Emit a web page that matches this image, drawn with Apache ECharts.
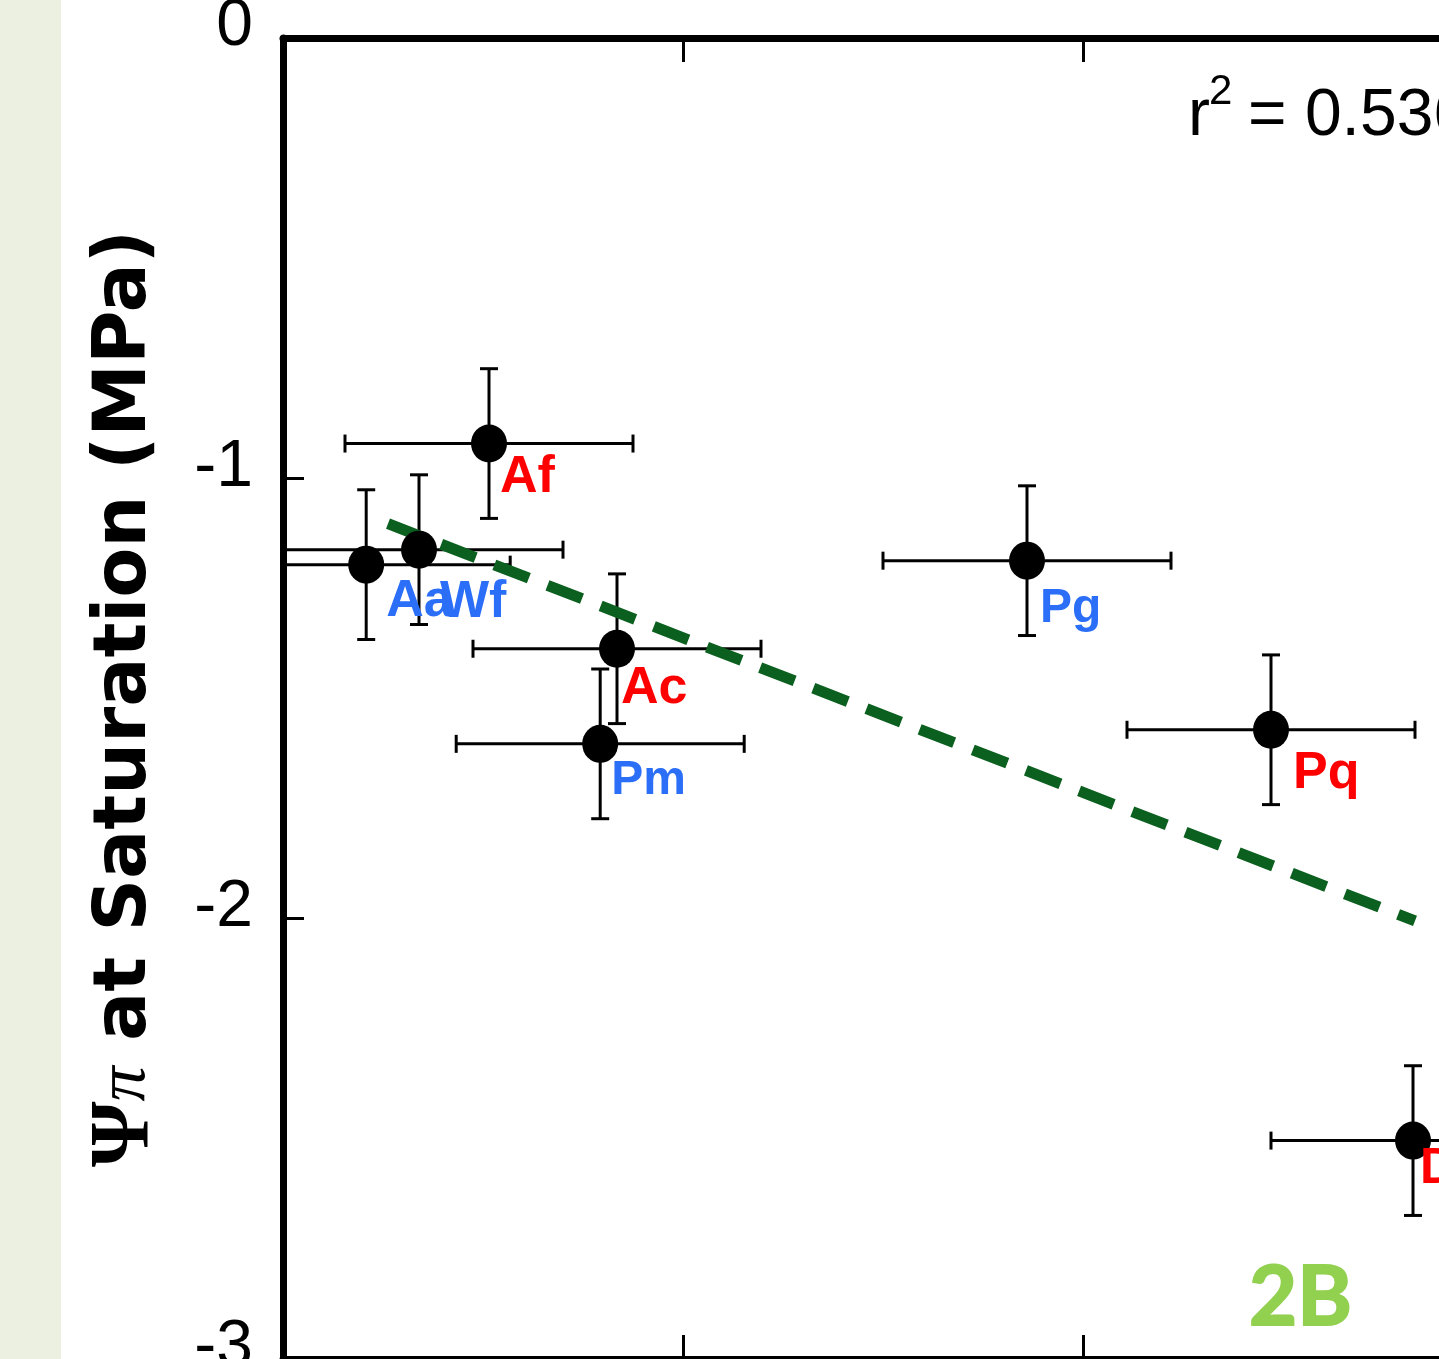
<!DOCTYPE html>
<html><head><meta charset="utf-8">
<script src="https://cdn.jsdelivr.net/npm/echarts@6/dist/echarts.min.js"></script>
<style>html,body{margin:0;padding:0;background:#fff;overflow:hidden}#c{width:1439px;height:1359px}</style>
</head><body><div id="c"></div>
<script>
// ---- data ----
const species  = ['Aa', 'Wf', 'Af', 'Ac', 'Pm', 'Pg', 'Pq', 'D'];
const xValues  = [0.208, 0.340, 0.515, 0.835, 0.793, 1.860, 2.470, 2.825];
const yValues  = [-1.196, -1.162, -0.921, -1.387, -1.603, -1.187, -1.571, -2.504];
const xErrors  = [0.36, 0.36, 0.36, 0.36, 0.36, 0.36, 0.36, 0.355];
const yErrors  = [0.17, 0.17, 0.17, 0.17, 0.17, 0.17, 0.17, 0.17];
const groups   = ['blue', 'blue', 'red', 'red', 'blue', 'blue', 'red', 'red'];
const trendX   = [0.2625, 2.83];
const trendY   = [-1.103, -2.005];
const yTickValues = [-3, -2, -1, 0];
const r2Value  = '0.536';
const panelTag = '2B';

// ---- styling (kept separate from data) ----
const groupColors = { red: '#ff0000', blue: '#2b6ef7' };
const labelLayout = {
  Aa: { dx: 20, dy: 37.5, size: 52 },
  Wf: { dx: 21, dy: 52.5, size: 52 },
  Af: { dx: 11, dy: 34.5, size: 52 },
  Ac: { dx: 4,  dy: 39.5, size: 52 },
  Pm: { dx: 11, dy: 37,   size: 48 },
  Pg: { dx: 13, dy: 48,   size: 48 },
  Pq: { dx: 22, dy: 43.5, size: 52 },
  D:  { dx: 7,  dy: 28.5, size: 50 }
};
const SYM = [36, 38];

const chart = echarts.init(document.getElementById('c'), null, { renderer: 'canvas' });

const errData = xValues.map((x, i) => [x, yValues[i], xErrors[i], yErrors[i]]);
const ptData = xValues.map((x, i) => {
  const L = labelLayout[species[i]];
  return {
    value: [x, yValues[i]],
    name: species[i],
    label: {
      show: true,
      formatter: species[i],
      position: [L.dx + SYM[0] / 2, L.dy + SYM[1] / 2],
      align: 'left',
      verticalAlign: 'middle',
      color: groupColors[groups[i]],
      fontSize: L.size,
      fontWeight: 'bold',
      fontFamily: 'Liberation Sans, Arial, sans-serif'
    }
  };
});

const axisCommon = {
  type: 'value', min: 0, max: 4, interval: 1,
  axisLine: { show: true, onZero: false, lineStyle: { color: '#000', width: 7 } },
  axisTick: { show: true, inside: true, length: 24, lineStyle: { color: '#000', width: 3 } },
  axisLabel: { show: false },
  splitLine: { show: false }
};

chart.setOption({
  animation: false,
  backgroundColor: '#ffffff',
  grid: { left: 283, top: 38, width: 1600, height: 1321, containLabel: false, outerBoundsMode: 'none' },
  xAxis: [
    Object.assign({}, axisCommon, { position: 'bottom' }),
    Object.assign({}, axisCommon, { position: 'top' })
  ],
  yAxis: {
    type: 'value', min: yTickValues[0], max: yTickValues[yTickValues.length - 1], interval: 1,
    axisLine: { show: true, onZero: false, lineStyle: { color: '#000', width: 7 } },
    axisTick: { show: true, inside: true, length: 21, lineStyle: { color: '#000', width: 3 } },
    axisLabel: {
      show: true, margin: 30, color: '#000', fontSize: 66,
      fontFamily: 'Liberation Sans, Arial, sans-serif',
      verticalAlign: 'bottom', lineHeight: 22
    },
    splitLine: { show: false },
    name: '{psi|Ψ}{pi|π}{t| at Saturation (MPa)}',
    nameLocation: 'middle', nameRotate: 90, nameGap: 115,
    nameTextStyle: {
      rich: {
        psi: { fontFamily: 'Liberation Serif, serif', fontWeight: 'bold', fontSize: 84, color: '#000' },
        pi:  { fontFamily: 'Liberation Serif, serif', fontStyle: 'italic', fontSize: 70, color: '#000' },
        t:   { fontFamily: 'DejaVu Sans, Verdana, sans-serif', fontWeight: 'bold', fontSize: 73, color: '#000' }
      }
    }
  },
  graphic: [
    { type: 'rect', z: -10, shape: { x: 0, y: 0, width: 61, height: 1359 }, style: { fill: '#ecf0e1' } },
    { type: 'text', x: 1188, y: 116.5, style: { text: 'r', fontSize: 66, fontFamily: 'Liberation Sans, Arial', fill: '#000', align: 'left', verticalAlign: 'middle' } },
    { type: 'text', x: 1209, y: 92, style: { text: '2', fontSize: 42, fontFamily: 'Liberation Sans, Arial', fill: '#000', align: 'left', verticalAlign: 'middle' } },
    { type: 'text', x: 1248, y: 116.5, style: { text: '= ' + r2Value, fontSize: 66, fontFamily: 'Liberation Sans, Arial', fill: '#000', align: 'left', verticalAlign: 'middle' } },
    { type: 'text', x: 1249, y: 1298, style: { text: panelTag, fontSize: 83, fontWeight: 'bold', fontFamily: 'Lato, Open Sans, sans-serif', fill: '#92d050', stroke: '#92d050', lineWidth: 2, align: 'left', verticalAlign: 'middle' } }
  ],
  series: [
    {
      type: 'custom', z: 2, clip: true,
      data: errData,
      encode: { x: 0, y: 1 },
      renderItem: function (params, api) {
        const x = api.value(0), y = api.value(1), ex = api.value(2), ey = api.value(3);
        const c = api.coord([x, y]);
        const l = api.coord([x - ex, y]);
        const r = api.coord([x + ex, y]);
        const t = api.coord([x, y + ey]);
        const b = api.coord([x, y - ey]);
        const cap = 9;
        const st = { stroke: '#000', lineWidth: 3 };
        const ln = (x1, y1, x2, y2) => ({ type: 'line', shape: { x1, y1, x2, y2 }, style: st });
        return {
          type: 'group',
          children: [
            ln(l[0], c[1], r[0], c[1]),
            ln(l[0], c[1] - cap, l[0], c[1] + cap),
            ln(r[0], c[1] - cap, r[0], c[1] + cap),
            ln(c[0], t[1], c[0], b[1]),
            ln(c[0] - cap, t[1], c[0] + cap, t[1]),
            ln(c[0] - cap, b[1], c[0] + cap, b[1])
          ]
        };
      }
    },
    {
      type: 'line', z: 3, symbol: 'none', silent: true,
      data: trendX.map((x, i) => [x, trendY[i]]),
      lineStyle: { color: '#0c601f', width: 11, type: [37, 20], cap: 'butt' }
    },
    {
      type: 'scatter', z: 4,
      symbol: 'circle', symbolSize: SYM,
      itemStyle: { color: '#000', opacity: 1 },
      data: ptData
    }
  ]
});
</script>
</body></html>
